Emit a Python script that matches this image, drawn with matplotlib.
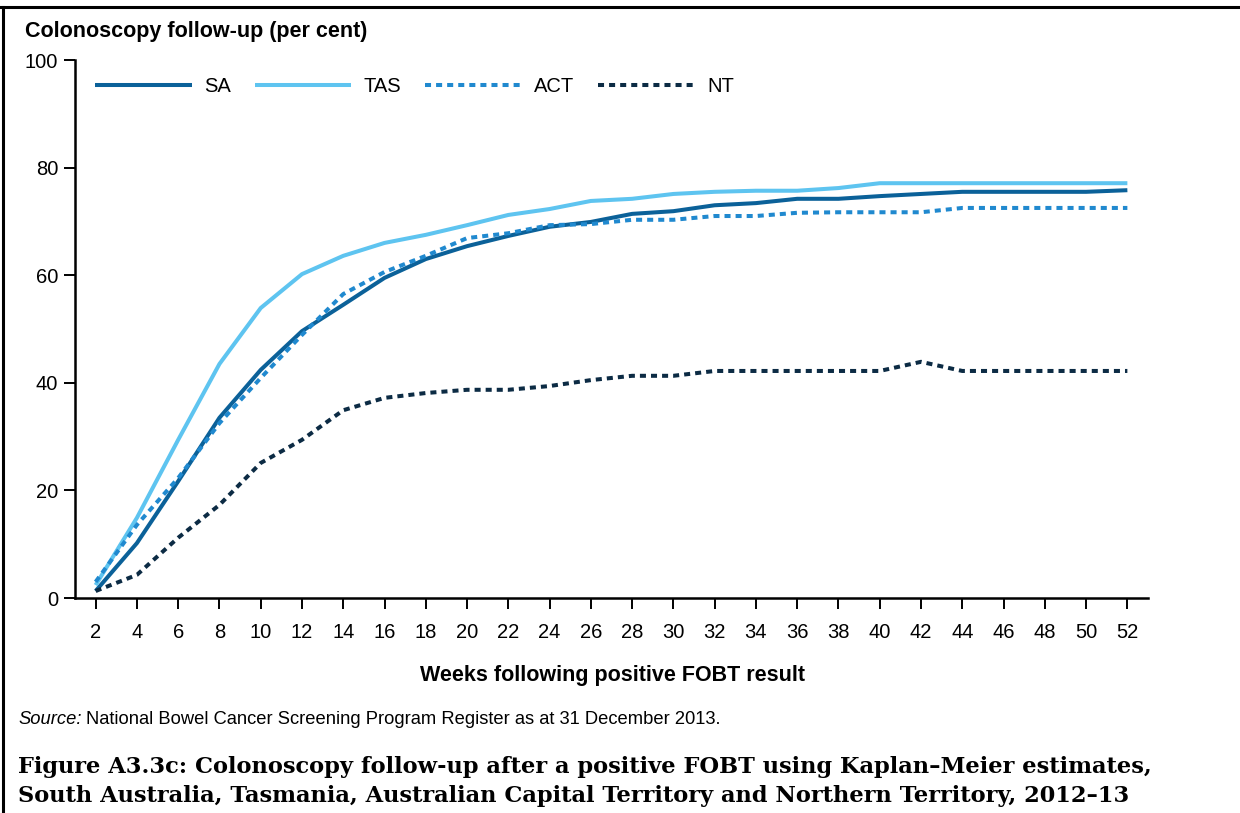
import matplotlib
matplotlib.use("Agg")
import matplotlib.pyplot as plt
from matplotlib.lines import Line2D

# Weeks after a positive FOBT result
weeks = [2, 4, 6, 8, 10, 12, 14, 16, 18, 20, 22, 24, 26, 28, 30, 32, 34, 36,
         38, 40, 42, 44, 46, 48, 50, 52]

# Kaplan-Meier colonoscopy follow-up estimates (per cent)
sa = [1.3, 10.2, 21.7, 33.5, 42.4, 49.6, 54.5, 59.5, 63.0, 65.4, 67.3, 69.0, 69.9,
      71.4, 71.9, 73.0, 73.4, 74.2, 74.2, 74.7, 75.1, 75.5, 75.5, 75.5, 75.5, 75.8]
tas = [2.4, 14.9, 29.4, 43.5, 53.9, 60.2, 63.6, 66.0, 67.5, 69.3, 71.2, 72.3, 73.8,
       74.2, 75.1, 75.5, 75.7, 75.7, 76.2, 77.1, 77.1, 77.1, 77.1, 77.1, 77.1, 77.1]
act = [3.0, 13.6, 22.3, 32.5, 40.9, 48.9, 56.5, 60.6, 63.6, 66.9, 67.8, 69.3, 69.5,
       70.3, 70.3, 71.0, 71.0, 71.6, 71.7, 71.7, 71.7, 72.5, 72.5, 72.5, 72.5, 72.5]
nt = [1.3, 4.3, 11.2, 17.3, 25.1, 29.4, 34.9, 37.2, 38.1, 38.7, 38.7, 39.4, 40.5,
      41.3, 41.3, 42.2, 42.2, 42.2, 42.2, 42.2, 43.9, 42.2, 42.2, 42.2, 42.2, 42.2]

series_labels = ["SA", "TAS", "ACT", "NT"]
y_ticks = [0, 20, 40, 60, 80, 100]

W, H = 1240, 813
fig = plt.figure(figsize=(W / 100, H / 100), dpi=100)
fig.patch.set_facecolor("white")

sans = ["Liberation Sans", "DejaVu Sans"]

def px_box(x0, y0, x1, y1):
    return [x0 / W, 1 - y1 / H, (x1 - x0) / W, (y1 - y0) / H]

ax = fig.add_axes(px_box(75, 60, 1148, 598))

lw = 2.9
dots = (0, (1.5, 1.25))
ax.plot(weeks, sa, color="#0b6199", lw=lw, label=series_labels[0], solid_capstyle="butt")
ax.plot(weeks, tas, color="#5ec4f0", lw=lw, label=series_labels[1], solid_capstyle="butt")
ax.plot(weeks, act, color="#2089cf", lw=lw, ls=dots, label=series_labels[2], dash_capstyle="butt")
ax.plot(weeks, nt, color="#0c2b44", lw=lw, ls=dots, label=series_labels[3], dash_capstyle="butt")

ax.set_xlim(1, 53)
ax.set_ylim(0, 100)
ax.set_xticks(weeks)
ax.set_xticklabels([str(w) for w in weeks])
ax.set_yticks(y_ticks)
ax.set_yticklabels([str(v) for v in y_ticks])

for side in ("top", "right"):
    ax.spines[side].set_visible(False)
for side in ("left", "bottom"):
    ax.spines[side].set_linewidth(1.8)
    ax.spines[side].set_color("black")

ax.tick_params(axis="both", direction="out", length=8, width=1.4, color="black",
               labelsize=14.5)
ax.tick_params(axis="x", pad=10)
ax.tick_params(axis="y", pad=4)
for lab in ax.get_xticklabels() + ax.get_yticklabels():
    lab.set_fontfamily(sans)

leg = ax.legend(loc="upper left", bbox_to_anchor=(20 / 1073, 1 - 17 / 538), ncol=4,
                frameon=False, handlelength=4.8, handletextpad=0.6,
                columnspacing=1.2, borderaxespad=0, borderpad=0,
                prop={"family": sans, "size": 14.5})

fig.text(25 / W, 1 - 32 / H, "Colonoscopy follow-up (per cent)", ha="left", va="center",
         fontsize=15.5, fontweight="bold", family=sans)
fig.text(612 / W, 1 - 675 / H, "Weeks following positive FOBT result", ha="center",
         va="center", fontsize=15.5, fontweight="bold", family=sans)

# Source note: italic lead-in followed by plain text
src_y = 1 - 719 / H
t_src = fig.text(18 / W, src_y, "Source:", ha="left", va="center", fontsize=13.2,
                 style="italic", family=sans)
fig.canvas.draw()
bb = t_src.get_window_extent(renderer=fig.canvas.get_renderer())
fig.text((bb.x1 + 5) / W, src_y,
         "National Bowel Cancer Screening Program Register as at 31 December 2013.",
         ha="left", va="center", fontsize=13.2, family=sans)

serif = ["DejaVu Serif"]
fig.text(18 / W, 1 - 767 / H,
         "Figure A3.3c: Colonoscopy follow-up after a positive FOBT using Kaplan\u2013Meier estimates,",
         ha="left", va="center", fontsize=16.2, fontweight="bold", family=serif)
fig.text(18 / W, 1 - 796 / H,
         "South Australia, Tasmania, Australian Capital Territory and Northern Territory, 2012\u201313",
         ha="left", va="center", fontsize=16.2, fontweight="bold", family=serif)

# Frame lines along the top and left edges
fig.add_artist(Line2D([0, 1], [1 - 7 / H, 1 - 7 / H], transform=fig.transFigure,
                      color="black", lw=2.2))
fig.add_artist(Line2D([3 / W, 3 / W], [0, 1 - 7 / H], transform=fig.transFigure,
                      color="black", lw=2.2))

fig.savefig("out.png", dpi=100, facecolor="white")
